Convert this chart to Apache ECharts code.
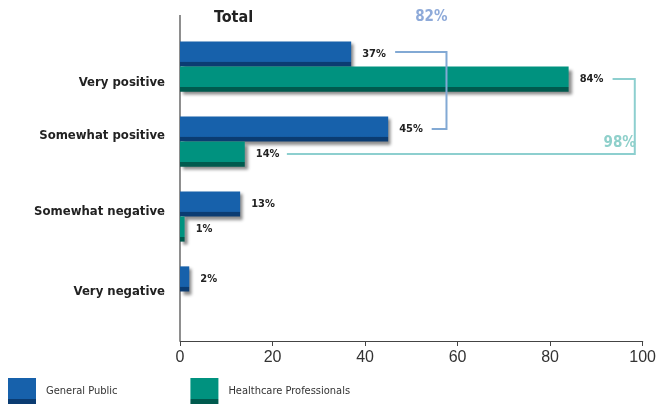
<!DOCTYPE html>
<html><head><meta charset="utf-8">
<script src="https://cdn.jsdelivr.net/npm/echarts@6/dist/echarts.min.js"></script>
<style>html,body{margin:0;padding:0;background:#fff}#c{width:659px;height:405px}</style>
</head><body><div id="c"></div>
<script>
const categories = ['Very positive', 'Somewhat positive', 'Somewhat negative', 'Very negative'];
const generalPublic = [37, 45, 13, 2];
const healthcarePros = [84, 14, 1, 0];
const seriesNames = ['General Public', 'Healthcare Professionals'];
const chartTitle = 'Total';
// bracket annotations: [topStartX, verticalX, bottomEndX, topCat, topSeries, bottomCat, bottomSeries]
const bracketLines = [
  [46.5, 57.6, 54.4, 0, 0, 1, 0],
  [93.5, 98.3, 23.1, 0, 1, 1, 1]
];
const bracketLabels = ['82%', '98%'];

const FONT = "'DejaVu Sans Condensed','Liberation Sans',Arial,sans-serif";
const GAP = 0.33;
function grad(main, dark) {
  return new echarts.graphic.LinearGradient(0, 0, 0, 1, [
    {offset: 0, color: main}, {offset: 0.8, color: main},
    {offset: 0.81, color: dark}, {offset: 1, color: dark}
  ]);
}
const gpColor = grad('#1761ab', '#0b3c72');
const hpColor = grad('#00927f', '#005a4e');
const labelOffsets = [16, -6, -5, 0];

const chart = echarts.init(document.getElementById('c'));
const barCommon = {
  type: 'bar', barGap: '0%', barCategoryGap: (GAP * 100) + '%',
  label: {show: true, position: 'right', distance: 11, formatter: '{c}%',
    fontFamily: FONT, fontWeight: 'bold', fontSize: 11, color: '#222'}
};
const catStyle = {fontFamily: FONT, fontWeight: 'bold', fontSize: 13, color: '#222'};
chart.setOption({
  animation: false,
  title: {text: chartTitle, left: 214, top: 10, padding: 0,
    textStyle: {fontFamily: FONT, fontWeight: 'bold', fontSize: 16, color: '#222'}},
  legend: {left: 8, top: 378, padding: 0, itemWidth: 28, itemHeight: 26, itemGap: 73, icon: 'rect',
    textStyle: {fontFamily: FONT, fontSize: 11, color: '#333', padding: [0, 0, 0, 5]},
    data: [{name: seriesNames[0], itemStyle: {color: gpColor}}, {name: seriesNames[1], itemStyle: {color: hpColor}}]},
  grid: {left: 180, right: 16, top: 29, height: 300},
  xAxis: {type: 'value', min: 0, max: 100, interval: 20, offset: 12,
    splitLine: {show: false},
    axisLine: {show: true, lineStyle: {color: '#444', width: 1.2}},
    axisTick: {show: true, length: 5, lineStyle: {color: '#444'}},
    axisLabel: {fontFamily: "'Liberation Sans','DejaVu Sans',sans-serif", fontSize: 16, color: '#333', margin: 9}},
  yAxis: {type: 'category', data: categories, inverse: true,
    axisLine: {show: false}, axisTick: {show: false},
    axisLabel: {margin: 15, formatter: function (v, i) { return '{c' + i + '|' + v + '}'; },
      rich: {
        c0: Object.assign({padding: [labelOffsets[0] * 2, 0, 0, 0]}, catStyle),
        c1: Object.assign({padding: [0, 0, -labelOffsets[1] * 2, 0]}, catStyle),
        c2: Object.assign({padding: [0, 0, -labelOffsets[2] * 2, 0]}, catStyle),
        c3: Object.assign({}, catStyle)
      }}},
  graphic: [{type: 'line', shape: {x1: 180, y1: 15, x2: 180, y2: 341}, style: {stroke: '#444', lineWidth: 1.2}}],
  series: [
    Object.assign({}, barCommon, {name: seriesNames[0], data: generalPublic,
      itemStyle: {color: gpColor, shadowColor: 'rgba(0,0,0,0.45)', shadowBlur: 3, shadowOffsetX: 3, shadowOffsetY: 3}}),
    Object.assign({}, barCommon, {name: seriesNames[1], data: healthcarePros,
      label: Object.assign({}, barCommon.label, {formatter: function (p) { return p.value > 0 ? p.value + '%' : ''; }}),
      itemStyle: {color: hpColor, shadowColor: 'rgba(0,0,0,0.45)', shadowBlur: 3, shadowOffsetX: 3, shadowOffsetY: 3}}),
    {type: 'custom', silent: true, z: 5, data: bracketLines,
      renderItem: function (params, api) {
        const i = params.dataIndex;
        const band = api.size([0, 1])[1];
        const bw = band * (1 - GAP) / 2;
        function yFor(cat, s) { return api.coord([0, cat])[1] + (s === 0 ? -bw / 2 : bw / 2); }
        const x1 = api.coord([api.value(0), 0])[0];
        const xv = api.coord([api.value(1), 0])[0];
        const x2 = api.coord([api.value(2), 0])[0];
        const yT = yFor(api.value(3), api.value(4)) - (i === 0 ? 2 : 0);
        const yB = yFor(api.value(5), api.value(6));
        const col = i === 0 ? '#82a9d4' : '#8dcfcf';
        const tcol = i === 0 ? '#8eaad9' : '#8fd0cb';
        const ty = i === 0 ? api.coord([0, 0])[1] - band / 2 - 12 : yB - 11;
        return {type: 'group', children: [
          {type: 'polyline', shape: {points: [[x1, yT], [xv, yT], [xv, yB], [x2, yB]]},
            style: {stroke: col, lineWidth: 2, fill: null}},
          {type: 'text', x: xv + 1, y: ty, style: {text: bracketLabels[i], align: 'right', verticalAlign: 'middle',
            font: 'bold 15px ' + FONT, fill: tcol}}
        ]};
      }}
  ]
});
</script></body></html>
